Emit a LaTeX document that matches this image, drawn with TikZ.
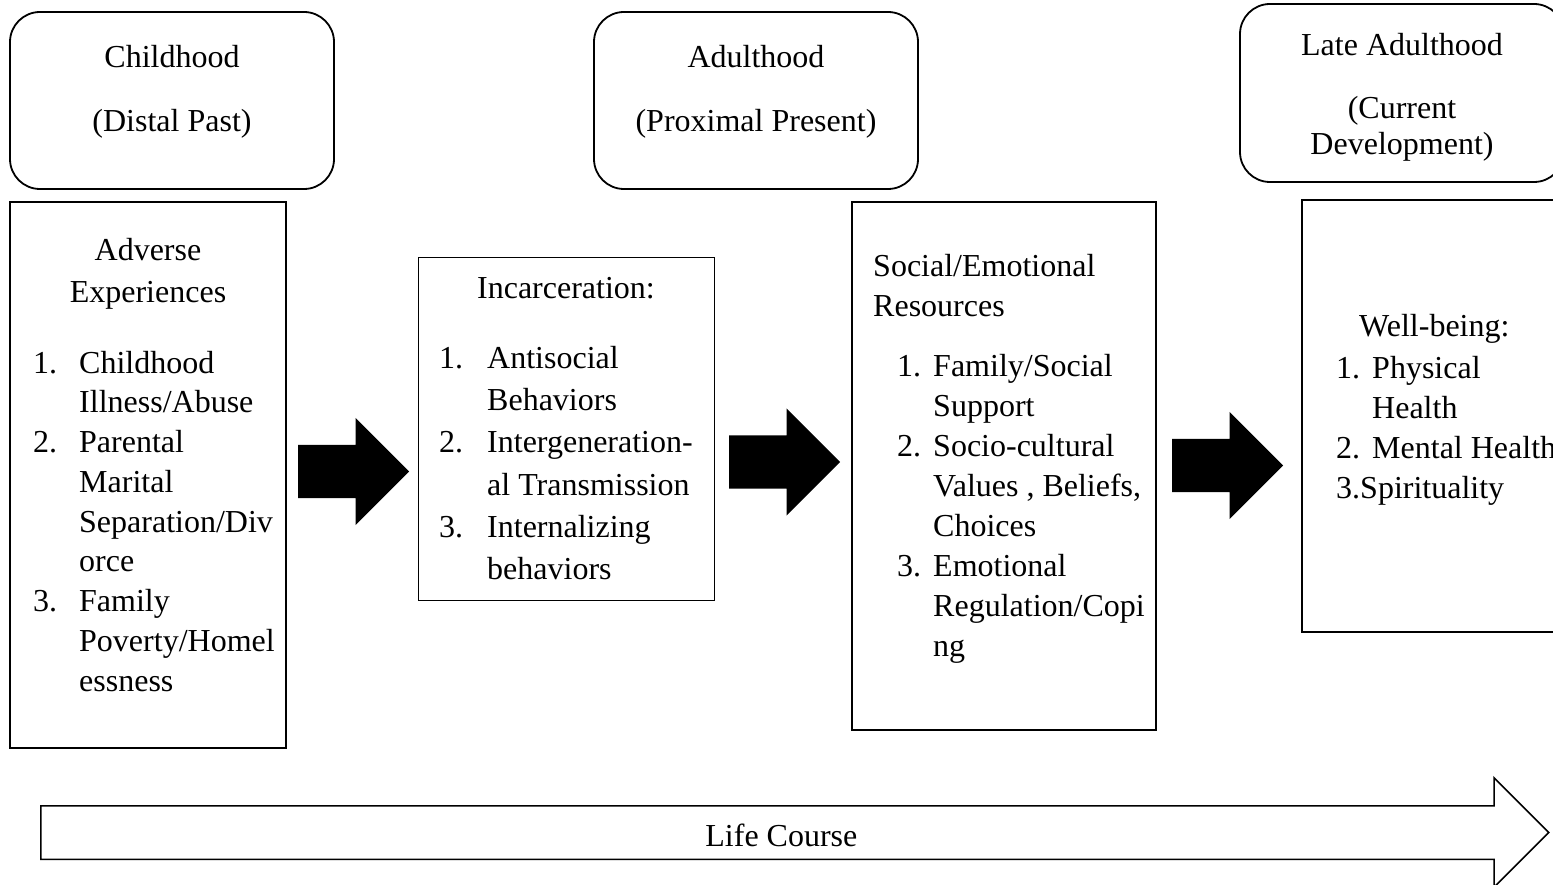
\documentclass[tikz,border=0pt]{standalone}
\usepackage{fontspec}
\setmainfont{Liberation Serif}
\usetikzlibrary{shapes.arrows}

\begin{document}
\begin{tikzpicture}[x=1pt,y=-1pt,
   font=\fontsize{32}{40}\selectfont,
   phase/.style={draw, line width=1.8pt, rounded corners=30pt, minimum width=324pt, inner sep=0pt},
   factor/.style={draw, line width=1.8pt, inner sep=0pt},
   bigarrow/.style={single arrow, fill=black, inner sep=0pt, inner ysep=26.5pt,
                    single arrow head extend=27pt, minimum height=111pt, anchor=tail},
   lbl/.style={inner sep=0pt, anchor=base},
   lst/.style={inner sep=0pt, anchor=base west}]
   \useasboundingbox (0,0) rectangle (1553,885);
   % life stages
   \node[phase, minimum height=177pt] (child) at (172,100.5) {};
   \node[phase, minimum height=177pt] (adult) at (756,100.5) {};
   \node[phase, minimum height=178pt] (late) at (1402,93) {};
   \node[lbl] (childA) at (172,67.5) {Childhood};
   \node[lbl] (childB) at (172,132) {(Distal Past)};
   \node[lbl] (adultA) at (756,67.5) {Adulthood};
   \node[lbl] (adultB) at (756,132) {(Proximal Present)};
   \node[lbl] (lateA) at (1402,56) {Late Adulthood};
   \node[lbl] (lateB) at (1402,119) {\begin{tabular}[t]{@{}c@{}}(Current\\[-4pt]Development)\end{tabular}};
   % factor boxes
   \node[factor, minimum width=276pt, minimum height=546pt] (adverse) at (148,475) {};
   \node[factor, line width=1pt, minimum width=296pt, minimum height=342pt] (incar) at (566,429) {};
   \node[factor, minimum width=304pt, minimum height=528pt] (social) at (1004,466) {};
   \node[factor, minimum width=270pt, minimum height=432pt] (well) at (1437,416) {};
   % box texts
   \node[lbl] (adverseT) at (148,261) {\begin{tabular}[t]{@{}c@{}}Adverse\\[2pt]Experiences\end{tabular}};
   \node[lst] (adverseL) at (33,373) {\renewcommand\arraystretch{0.994}\begin{tabular}[t]{@{}p{46pt}@{}l@{}}
      1. & Childhood\\ & Illness/Abuse\\
      2. & Parental\\ & Marital\\ & Separation/Div\\ & orce\\
      3. & Family\\ & Poverty/Homel\\ & essness\end{tabular}};
   \node[lbl] (incarT) at (566,299) {Incarceration:};
   \node[lst] (incarL) at (439,368) {\renewcommand\arraystretch{1.06}\begin{tabular}[t]{@{}p{48pt}@{}l@{}}
      1. & Antisocial\\ & Behaviors\\
      2. & Intergeneration-\\ & al Transmission\\
      3. & Internalizing\\ & behaviors\end{tabular}};
   \node[lst] (socialT) at (873,276.5) {\begin{tabular}[t]{@{}l@{}}Social/Emotional\\Resources\end{tabular}};
   \node[lst] (socialL) at (897,376.5) {\begin{tabular}[t]{@{}p{36pt}@{}l@{}}
      1. & Family/Social\\ & Support\\
      2. & Socio-cultural\\ & Values , Beliefs,\\ & Choices\\
      3. & Emotional\\ & Regulation/Copi\\ & ng\end{tabular}};
   \node[lst] (wellT) at (1359,336.5) {Well-being:};
   \node[lst] (wellL) at (1336,378) {\begin{tabular}[t]{@{}p{36pt}@{}l@{}}
      1. & Physical\\ & Health\\
      2. & Mental Health\\ \multicolumn{2}{@{}l@{}}{3.Spirituality}\end{tabular}};
   % block arrows
   \node[bigarrow] (arrA) at (298,471.5) {};
   \node[bigarrow] (arrB) at (729,462) {};
   \node[bigarrow] (arrC) at (1172,465.5) {};
   % life course
   \node[single arrow, draw, line width=1.5pt, anchor=tail, minimum height=1508pt,
         inner xsep=0pt, inner ysep=11.5pt, text height=28pt, text depth=1pt,
         single arrow head extend=28pt] (life) at (40,832.5) {Life Course};
\end{tikzpicture}
\end{document}
